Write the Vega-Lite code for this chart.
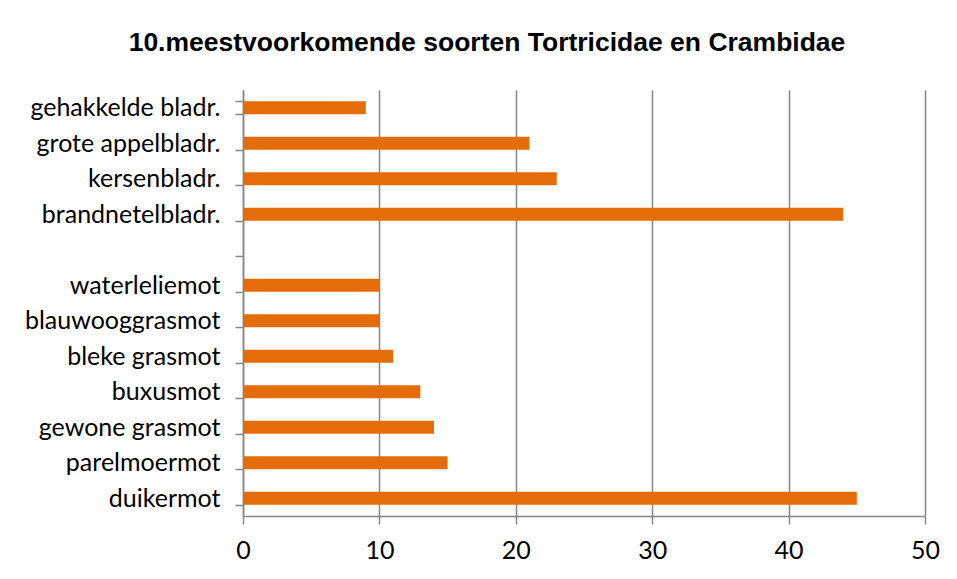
{
  "$schema": "https://vega.github.io/schema/vega-lite/v6.json",
  "width": 682,
  "height": 426,
  "autosize": {"type": "none"},
  "padding": {"left": 243, "top": 90, "right": 32, "bottom": 63},
  "background": "white",
  "title": {
    "text": "10.meestvoorkomende soorten Tortricidae en Crambidae",
    "font": "Liberation Sans",
    "fontSize": 26.5,
    "fontWeight": "bold",
    "color": "#000000",
    "anchor": "middle",
    "baseline": "alphabetic",
    "dx": -97,
    "offset": 1
  },
  "config": {"view": {"stroke": null}},
  "data": {
    "values": [
      {"soort": "gehakkelde bladr.", "aantal": 9},
      {"soort": "grote appelbladr.", "aantal": 21},
      {"soort": "kersenbladr.", "aantal": 23},
      {"soort": "brandnetelbladr.", "aantal": 44},
      {"soort": " ", "aantal": 0},
      {"soort": "waterleliemot", "aantal": 10},
      {"soort": "blauwooggrasmot", "aantal": 10},
      {"soort": "bleke grasmot", "aantal": 11},
      {"soort": "buxusmot", "aantal": 13},
      {"soort": "gewone grasmot", "aantal": 14},
      {"soort": "parelmoermot", "aantal": 15},
      {"soort": "duikermot", "aantal": 45}
    ]
  },
  "mark": {"type": "bar", "color": "#E46C0A"},
  "encoding": {
    "y": {
      "field": "soort",
      "type": "nominal",
      "sort": null,
      "scale": {"paddingInner": 0.63, "paddingOuter": 0.315},
      "axis": {
        "title": null,
        "tickBand": "extent",
        "tickSize": 8,
        "tickColor": "#868686",
        "tickWidth": 1.5,
        "domainColor": "#868686",
        "domainWidth": 1.5,
        "labelFont": "Lato",
        "labelFontSize": 25,
        "labelLimit": 0,
        "labelColor": "#000000",
        "labelPadding": 15,
        "grid": false
      }
    },
    "x": {
      "field": "aantal",
      "type": "quantitative",
      "scale": {"domain": [0, 50], "nice": false},
      "axis": {
        "title": null,
        "values": [0, 10, 20, 30, 40, 50],
        "labelFlush": false,
        "grid": true,
        "gridColor": "#868686",
        "gridWidth": 1.5,
        "tickSize": 8,
        "tickColor": "#868686",
        "tickWidth": 1.5,
        "domainColor": "#868686",
        "domainWidth": 1.5,
        "labelFont": "Lato",
        "labelFontSize": 25,
        "labelColor": "#000000",
        "labelPadding": 14
      }
    }
  }
}
